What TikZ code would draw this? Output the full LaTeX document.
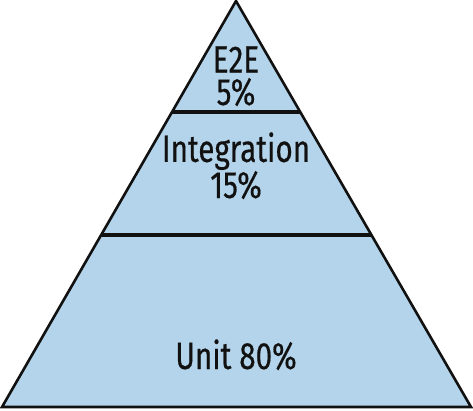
\documentclass[tikz,border=0pt]{standalone}
\usepackage{fontspec}
\setmainfont{Fira Sans}[FakeStretch=0.78,FakeBold=0.4]
\usetikzlibrary{calc}
\definecolor{tier}{HTML}{B3D4EA}
\definecolor{ink}{HTML}{111111}
\tikzset{
  every node/.style={text=ink},
  pyramid/.style={draw=ink,line width=2.6pt,fill=tier,line join=miter},
  divider/.style={draw=ink,line width=3.6pt},
  tierlabel/.style={font=\fontsize{38}{32.5}\selectfont,align=center,inner sep=0pt,anchor=base},
}
\begin{document}
\begin{tikzpicture}[x=1pt,y=-1pt]
\useasboundingbox (0,0) rectangle (473,410);

\coordinate (apex) at (236,1);
\coordinate (bl) at (2,407);
\coordinate (br) at (471,407);

\draw[pyramid] (apex) -- (br) -- (bl) -- cycle;

% dividers between tiers
\draw[divider] ($(apex)!0.2734!(bl)$) -- ($(apex)!0.2734!(br)$);
\draw[divider] ($(apex)!0.5764!(bl)$) -- ($(apex)!0.5764!(br)$);

\node[tierlabel] (e2e) at (236,105) {E2E\\5\%};
\node[tierlabel] (integration) at (236,198) {Integration\\15\%};
\node[tierlabel] (unit) at (236,369) {Unit 80\%};

\end{tikzpicture}
\end{document}
